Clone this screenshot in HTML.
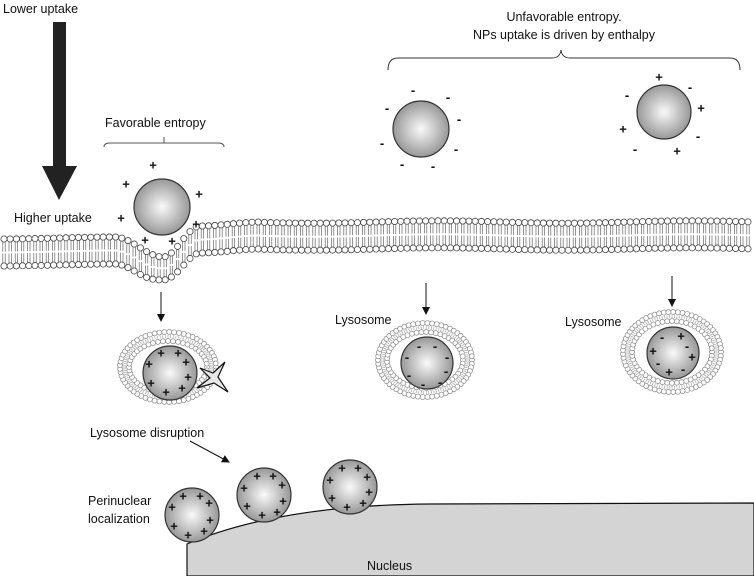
<!DOCTYPE html>
<html><head><meta charset="utf-8"><style>
html,body{margin:0;padding:0;background:#fff;}
svg{display:block;font-family:"Liberation Sans",Arial,sans-serif;}
.t{font-size:12.5px;fill:#111;}
.c{font-size:13px;fill:#111;text-anchor:middle;dominant-baseline:central;font-weight:bold;}
</style></head><body>
<svg id="s" width="754" height="576" viewBox="0 0 754 576" xmlns="http://www.w3.org/2000/svg">
<defs>
<radialGradient id="g" cx="0.5" cy="0.5" r="0.55">
<stop offset="0" stop-color="#fafafa"/><stop offset="1" stop-color="#8e8e8e"/></radialGradient>
<marker id="ah" markerWidth="8" markerHeight="8" refX="7" refY="4" orient="auto" markerUnits="userSpaceOnUse"><path d="M0,0 L8,4 L0,8 z" fill="#111"/></marker>
</defs>
<path d="M187,576 L187,544 Q280,505 430,504 L754,503 L754,576 Z" fill="#d4d4d4" stroke="#111" stroke-width="1.2"/>
<text class="t" x="367" y="570">Nucleus</text>
<g id="mem"></g>
<g id="lys"></g>
<rect x="53" y="22" width="13" height="146" fill="#222"/>
<path d="M42,166 L77,166 L59,200 Z" fill="#222"/>
<text class="t" x="3" y="13">Lower uptake</text>
<text class="t" x="14" y="222">Higher uptake</text>
<path d="M104,147 Q104,143 110,143 L218,143 Q224,143 224,147 M164,143 L164,137" fill="none" stroke="#555"/>
<text class="t" x="105" y="127">Favorable entropy</text>
<path d="M388,70 Q388,58 398,58 L552,58 Q560,58 561,50 Q562,58 570,58 L730,58 Q740,58 740,70" fill="none" stroke="#333"/>
<text class="t" x="564" y="21" text-anchor="middle">Unfavorable entropy.</text>
<text class="t" x="564" y="39" text-anchor="middle">NPs uptake is driven by enthalpy</text>
<line x1="161" y1="292" x2="161" y2="321" stroke="#111" marker-end="url(#ah)"/>
<line x1="426" y1="283" x2="426" y2="314" stroke="#111" marker-end="url(#ah)"/>
<line x1="672" y1="276" x2="672" y2="306" stroke="#111" marker-end="url(#ah)"/>
<line x1="190" y1="441" x2="229" y2="462" stroke="#111" marker-end="url(#ah)"/>
<text class="t" x="335" y="324">Lysosome</text>
<text class="t" x="565" y="326">Lysosome</text>
<text class="t" x="90" y="437">Lysosome disruption</text>
<text class="t" x="88" y="505">Perinuclear</text>
<text class="t" x="88" y="523">localization</text>
<g id="nps"></g>
<path d="M200,368 L213,373 L225,362 L218,377 L228,392 L214,383 L197,388 L210,378 Z" fill="#e8e8e8" stroke="#111" stroke-width="1.2"/>
</svg>
<script>
var NS="http://www.w3.org/2000/svg";
function el(p,n,a){var e=document.createElementNS(NS,n);for(var k in a)e.setAttribute(k,a[k]);p.appendChild(e);return e;}
function sm(t){t=Math.max(0,Math.min(1,t));return t*t*(3-2*t);}
function topY(x){
 if(x<115) return 239-2*sm(x/115);
 if(x<163) return 237+20*sm((x-115)/48);
 if(x<200) return 257-31*sm((x-163)/37);
 if(x<260) return 226-4*sm((x-200)/60);
 return 222+1.2*Math.sin(x/40);
}
function th(x){return 27-4*Math.exp(-Math.pow((x-163)/15,2));}
var mem=document.getElementById('mem');
for(var x=4;x<754;x+=6.2){var t=topY(x),h=th(x);
 for(var k=-1;k<=1;k+=2){
  el(mem,'line',{x1:x+k*1.2,y1:t+3,x2:x+k*1.2,y2:t+h/2-1,stroke:'#666','stroke-width':0.7});
  el(mem,'line',{x1:x+k*1.2,y1:t+h/2+1,x2:x+k*1.2,y2:t+h-3,stroke:'#666','stroke-width':0.7});}
 el(mem,'circle',{cx:x,cy:t,r:3.1,fill:'#fff',stroke:'#444','stroke-width':0.8});
 el(mem,'circle',{cx:x,cy:t+h,r:3.1,fill:'#fff',stroke:'#444','stroke-width':0.8});}
var lys=document.getElementById('lys');
function ring(cx,cy,rx,ry){
 [[rx,ry],[rx-9,ry-9]].forEach(function(r){var n=Math.round(2*Math.PI*Math.sqrt((r[0]*r[0]+r[1]*r[1])/2)/4.3);
  for(var i=0;i<n;i++){var a=2*Math.PI*i/n;el(lys,'circle',{cx:cx+r[0]*Math.cos(a),cy:cy+r[1]*Math.sin(a),r:2.5,fill:'#fff',stroke:'#888','stroke-width':0.7});}});
 var n2=Math.round(2*Math.PI*(rx+ry)/2/2.5);
 for(var i=0;i<n2;i++){var a=2*Math.PI*i/n2;el(lys,'line',{x1:cx+(rx-3)*Math.cos(a),y1:cy+(ry-3)*Math.sin(a),x2:cx+(rx-6)*Math.cos(a),y2:cy+(ry-6)*Math.sin(a),stroke:'#999','stroke-width':0.6});}}
ring(168,367,48,35);ring(425,360,47,37);ring(672,352,49,40);
var nps=document.getElementById('nps');
function np(cx,cy,r,s,pts){el(nps,'circle',{cx:cx,cy:cy,r:r,fill:'url(#g)',stroke:'#333','stroke-width':1.2});
 pts.forEach(function(c,i){var t=el(nps,'text',{x:c[0],y:c[1],'class':'c'});t.textContent=s[i];});}
np(162,207,28,"+++++++",[[153,165],[126,184],[199,194],[121,218],[196,224],[145,240],[172,241]]);
np(421,129,28,"--------",[[413,90],[448,97],[387,108],[459,119],[382,143],[456,149],[402,164],[433,166]]);
np(664,112,27,"+--++--+",[[659,77],[690,87],[627,95],[701,108],[623,129],[698,136],[635,149],[677,151]]);
np(170,373,27,"++++++++",[[161,353],[178,353],[186,362],[149,364],[188,377],[151,383],[182,388],[166,392]]);
np(427,363,26,"--------",[[419,346],[435,346],[407,357],[447,357],[446,371],[409,375],[440,382],[423,384]]);
np(673,353,26,"-+-++-+-",[[662,337],[681,336],[687,346],[653,351],[692,357],[658,363],[669,372],[683,369]]);
np(192,515,27,"++++++++",[[183,496],[200,496],[209,503],[172,507],[210,520],[174,526],[188,535],[204,531]]);
np(264,495,27,"++++++++",[[257,476],[273,476],[282,485],[244,488],[283,501],[247,506],[262,515],[277,512]]);
np(350,487,27,"++++++++",[[342,468],[358,468],[367,477],[330,480],[369,492],[332,498],[347,507],[363,503]]);
</script>
</body></html>
